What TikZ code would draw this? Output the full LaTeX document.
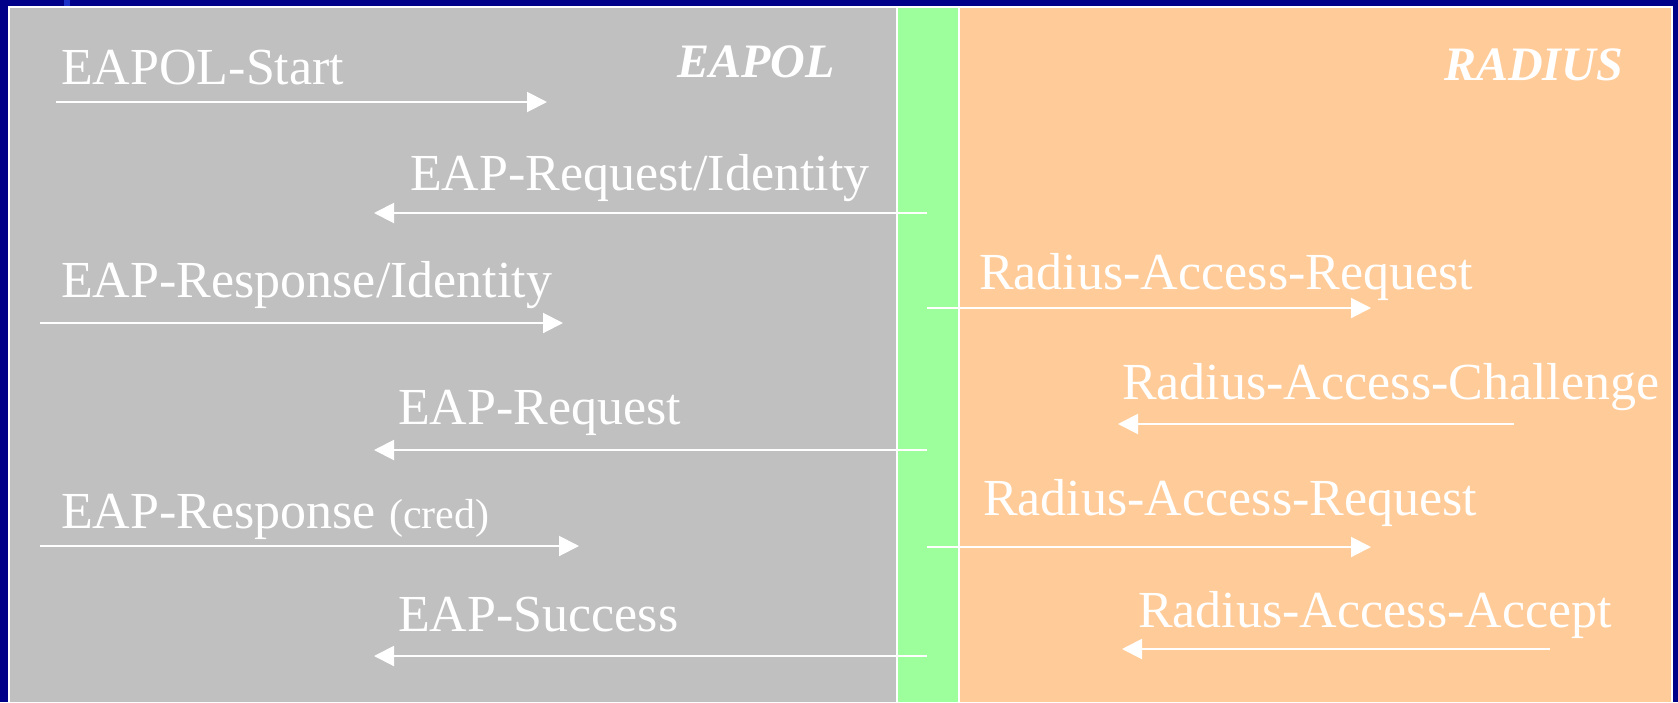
\documentclass[tikz,border=0pt]{standalone}
\usepackage{fontspec}
\setmainfont{Liberation Serif}
\usetikzlibrary{arrows.meta}

\definecolor{slidenavy}{RGB}{0,0,136}
\definecolor{markblue}{RGB}{30,50,200}
\definecolor{eapolgray}{RGB}{192,192,192}
\definecolor{bridgegreen}{RGB}{156,255,156}
\definecolor{radiusorange}{RGB}{255,204,153}

\begin{document}
\begin{tikzpicture}[x=1pt, y=-1pt,
		msg/.style={draw=white, line width=2pt, -{Triangle[length=20pt, width=20pt]}},
		lbl/.style={anchor=base west, inner sep=0pt, text=white, font=\fontsize{52}{60}\selectfont},
		side/.style={anchor=base west, inner sep=0pt, text=white, font=\fontsize{48}{56}\selectfont\bfseries\itshape}]
			% panels
			\fill[slidenavy] (0, 0) rectangle (1678, 702);
			\fill[markblue] (64, 0) rectangle (70, 6);
			\fill[white] (8, 6) rectangle (1673, 702);
			\fill[eapolgray] (10, 8) rectangle (896, 702);
			\fill[bridgegreen] (898, 8) rectangle (958, 702);
			\fill[radiusorange] (960, 8) rectangle (1671, 702);
			\node[side](EAPOL) at (677, 77){EAPOL};
			\node[side](RADIUS) at (1444, 80){RADIUS};
			% labels
			\node[lbl](T1) at (61, 84){EAPOL-Start};
			\node[lbl](T2) at (410, 190){EAP-Request/Identity};
			\node[lbl](T3) at (61, 297){EAP-Response/Identity};
			\node[lbl](T4) at (979, 289){Radius-Access-Request};
			\node[lbl](T5) at (1122, 399){Radius-Access-Challenge};
			\node[lbl](T6) at (398, 424){EAP-Request};
			\node[lbl](T7) at (61, 528){EAP-Response {\fontsize{42}{50}\selectfont (cred)}};
			\node[lbl](T8) at (983, 515){Radius-Access-Request};
			\node[lbl](T9) at (1138, 627){Radius-Access-Accept};
			\node[lbl](T10) at (398, 631){EAP-Success};
			% arrow ends
			\coordinate (S1) at (56, 102);
			\coordinate (E1) at (547, 102);
			\coordinate (S2) at (927, 213);
			\coordinate (E2) at (374, 213);
			\coordinate (S3) at (40, 323);
			\coordinate (E3) at (563, 323);
			\coordinate (S4) at (927, 308);
			\coordinate (E4) at (1371, 308);
			\coordinate (S5) at (1514, 424);
			\coordinate (E5) at (1118, 424);
			\coordinate (S6) at (927, 450);
			\coordinate (E6) at (374, 450);
			\coordinate (S7) at (40, 546);
			\coordinate (E7) at (579, 546);
			\coordinate (S8) at (927, 547);
			\coordinate (E8) at (1371, 547);
			\coordinate (S9) at (1550, 649);
			\coordinate (E9) at (1122, 649);
			\coordinate (S10) at (927, 656);
			\coordinate (E10) at (374, 656);
			\draw[msg] (S1) -- (E1);
			\draw[msg] (S2) -- (E2);
			\draw[msg] (S3) -- (E3);
			\draw[msg] (S4) -- (E4);
			\draw[msg] (S5) -- (E5);
			\draw[msg] (S6) -- (E6);
			\draw[msg] (S7) -- (E7);
			\draw[msg] (S8) -- (E8);
			\draw[msg] (S9) -- (E9);
			\draw[msg] (S10) -- (E10);
		\end{tikzpicture}
\end{document}
